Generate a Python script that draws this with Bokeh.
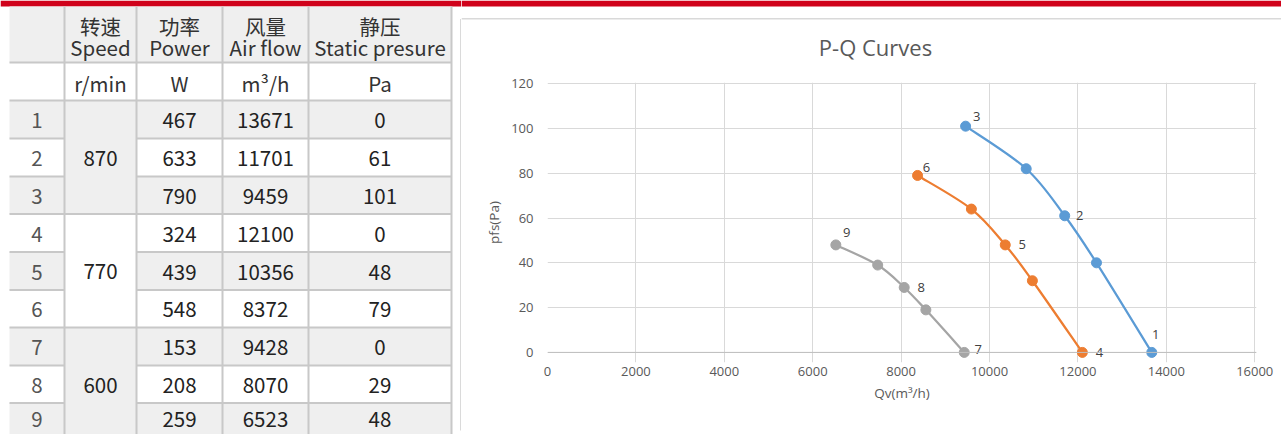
import numpy as np
from bokeh.plotting import figure
from bokeh.models import Range1d, ColumnDataSource, FixedTicker, NumeralTickFormatter, Span
from bokeh.layouts import column, row
from bokeh.embed import file_html
from bokeh.resources import INLINE
from bokeh.core.properties import value

# ---------------- table data ----------------
row_ids = ["1", "2", "3", "4", "5", "6", "7", "8", "9"]
speeds = ["870", "770", "600"]
power = ["467", "633", "790", "324", "439", "548", "153", "208", "259"]
airflow = ["13671", "11701", "9459", "12100", "10356", "8372", "9428", "8070", "6523"]
static = ["0", "61", "101", "0", "48", "79", "0", "29", "48"]
header_cn = ["转速", "功率", "风量", "静压"]
header_en = ["Speed", "Power", "Air flow", "Static presure"]
units = ["r/min", "W", "m³/h", "Pa"]

# ---------------- chart data ----------------
q_870 = [13671, 12420, 11701, 10830, 9459]
p_870 = [0, 40, 61, 82, 101]
q_770 = [12100, 10970, 10356, 9590, 8372]
p_770 = [0, 32, 48, 64, 79]
q_600 = [9428, 8560, 8070, 7470, 6523]
p_600 = [0, 19, 29, 39, 48]
lab_870 = ["1", "", "2", "", "3"]
lab_770 = ["4", "", "5", "", "6"]
lab_600 = ["7", "", "8", "", "9"]
x_ticks = [0, 2000, 4000, 6000, 8000, 10000, 12000, 14000, 16000]
y_ticks = [0, 20, 40, 60, 80, 100, 120]
chart_title = "P-Q Curves"
x_title = "Qv(m³/h)"
y_title = "pfs(Pa)"

# ---------------- styles ----------------
RED = "#d0021b"
CELL_GRAY = "#efefef"
LINE_GRAY = "#c8c8c8"
FRAME_GRAY = "#d9d9d9"
TXT = "#595959"
CJK = value("Noto Sans CJK SC")
LAT = "Open Sans"
BLUE, ORANGE, GREY = "#5b9bd5", "#ed7d31", "#a5a5a5"


def pixel_fig(w, h, x0, y0, bg="white"):
    f = figure(width=w, height=h, x_range=Range1d(x0, x0 + w), y_range=Range1d(y0 + h, y0),
               output_backend="svg", toolbar_location=None, min_border=0,
               x_axis_type=None, y_axis_type=None, frame_align=False)
    f.outline_line_color = None
    f.background_fill_color = bg
    f.border_fill_color = bg
    return f


# ---------------- table ----------------
tab = pixel_fig(461, 434, 0, 0)
tab.quad(left=[0], right=[461], top=[0], bottom=[6], fill_color=RED, line_color=None)
col_edges = [9, 64, 136, 222, 308, 451]
row_edges = [6, 62, 100, 138, 176, 213.5, 251.5, 289.5, 327, 365, 402.5, 440]

ql, qr, qt, qb = [], [], [], []
for r in range(len(row_edges) - 1):
    if r == 0:
        ql.append(col_edges[0]); qr.append(col_edges[-1]); qt.append(row_edges[0]); qb.append(row_edges[1])
    elif r >= 2 and r % 2 == 0:
        for a, b in [(col_edges[0], col_edges[1]), (col_edges[2], col_edges[-1])]:
            ql.append(a); qr.append(b); qt.append(row_edges[r]); qb.append(row_edges[r + 1])
for g in range(len(speeds)):
    if g % 2 == 0:
        ql.append(col_edges[1]); qr.append(col_edges[2])
        qt.append(row_edges[2 + 3 * g]); qb.append(row_edges[5 + 3 * g])
tab.quad(left=ql, right=qr, top=qt, bottom=qb, fill_color=CELL_GRAY, line_color=None)

hx0, hx1, hy = [], [], []
for r in range(1, len(row_edges) - 1):
    y = row_edges[r]
    inner = r >= 3 and (r - 2) % 3 != 0
    if inner:
        hx0 += [col_edges[0], col_edges[2]]; hx1 += [col_edges[1], col_edges[-1]]; hy += [y, y]
    else:
        hx0.append(col_edges[0]); hx1.append(col_edges[-1]); hy.append(y)
tab.segment(x0=hx0, y0=hy, x1=hx1, y1=hy, line_color=LINE_GRAY, line_width=2)
vx = col_edges[1:]
tab.segment(x0=vx, y0=[6] * len(vx), x1=vx, y1=[434] * len(vx), line_color=LINE_GRAY, line_width=2)
tab.segment(x0=[460.3], y0=[18.5], x1=[460.3], y1=[430], line_color=FRAME_GRAY, line_width=1.5)

ccx = [(col_edges[i] + col_edges[i + 1]) / 2 for i in range(len(col_edges) - 1)]
rmid = [(row_edges[i] + row_edges[i + 1]) / 2 + 1 for i in range(len(row_edges) - 1)]
rmid[-1] = min(rmid[-1], 419)  # keep the last (partly hidden) row's text inside the page

tkw = dict(text_font=CJK, text_font_size="20.5px", text_align="center", text_baseline="middle")
tab.text(x=ccx[1:], y=[25] * 4, text=header_cn, text_color="#333333", **tkw)
tab.text(x=ccx[1:], y=[46] * 4, text=header_en, text_color="#333333", **tkw)
tab.text(x=ccx[1:], y=[rmid[1]] * 4, text=units, text_color="#333333", **tkw)
tab.text(x=[ccx[0]] * 9, y=rmid[2:], text=row_ids, text_color="#555555", **tkw)
tab.text(x=[ccx[1]] * 3, y=[(row_edges[2 + 3 * g] + row_edges[5 + 3 * g]) / 2 + 1 for g in range(3)],
         text=speeds, text_color="#222222", **tkw)
tab.text(x=[ccx[2]] * 9, y=rmid[2:], text=power, text_color="#222222", **tkw)
tab.text(x=[ccx[3]] * 9, y=rmid[2:], text=airflow, text_color="#222222", **tkw)
tab.text(x=[ccx[4]] * 9, y=rmid[2:], text=static, text_color="#222222", **tkw)

# ---------------- chart strips ----------------
top = pixel_fig(820, 64, 461, 0)
top.quad(left=[461], right=[1281], top=[0], bottom=[6], fill_color=RED, line_color=None)
top.segment(x0=[461], y0=[18.2], x1=[1281], y1=[18.2], line_color=FRAME_GRAY, line_width=1.5)
top.text(x=[875], y=[46], text=[chart_title], text_font=value(LAT), text_font_size="22px",
         text_color=TXT, text_align="center", text_baseline="middle")
bot = pixel_fig(820, 5, 461, 429)
bot.segment(x0=[461], y0=[430.2], x1=[1281], y1=[430.2], line_color=FRAME_GRAY, line_width=1.5)

# ---------------- chart ----------------
c = figure(width=820, height=365, x_range=Range1d(0, 16040), y_range=Range1d(-4.5, 120.5),
           output_backend="svg", toolbar_location=None, frame_align=False,
           min_border_left=86, min_border_right=25, min_border_top=18, min_border_bottom=67)
c.background_fill_color = "white"
c.border_fill_color = "white"
c.outline_line_color = None

for ax, ticks in [(c.xaxis[0], x_ticks), (c.yaxis[0], y_ticks)]:
    ax.ticker = FixedTicker(ticks=ticks)
    ax.formatter = NumeralTickFormatter(format="0")
    ax.major_tick_line_color = None
    ax.minor_tick_line_color = None
    ax.major_tick_out = 0
    ax.major_tick_in = 0
    ax.axis_line_color = None
    ax.major_label_text_font = LAT
    ax.major_label_text_font_size = "13px"
    ax.major_label_text_color = TXT
    ax.axis_label_text_font = LAT
    ax.axis_label_text_font_size = "13.5px"
    ax.axis_label_text_font_style = "normal"
    ax.axis_label_text_color = TXT
c.xaxis.axis_label = x_title
c.yaxis.axis_label = y_title
c.xaxis.major_label_standoff = 4
c.yaxis.major_label_standoff = 14
c.xaxis.axis_label_standoff = 5
c.yaxis.axis_label_standoff = 5
c.xgrid.ticker = FixedTicker(ticks=x_ticks)
c.ygrid.ticker = FixedTicker(ticks=y_ticks)
c.xgrid.bounds = (0, 120)
c.ygrid.bounds = (0, 16000)
c.grid.grid_line_color = FRAME_GRAY
c.grid.grid_line_width = 1
c.add_layout(Span(location=0, dimension="width", line_color="#bfbfbf", line_width=1))


def smooth(xs, ys):
    P = np.column_stack([xs, ys]).astype(float)
    n = len(P)
    segs = []
    for i in range(n - 1):
        p0 = P[i - 1] if i > 0 else P[i]
        p1, p2 = P[i], P[i + 1]
        p3 = P[i + 2] if i + 2 < n else P[i + 1]
        c1 = p1 + (p2 - p0) / 6.0
        c2 = p2 - (p3 - p1) / 6.0
        segs.append((p1, p2, c1, c2))
    return dict(x0=[s[0][0] for s in segs], y0=[s[0][1] for s in segs],
                x1=[s[1][0] for s in segs], y1=[s[1][1] for s in segs],
                cx0=[s[2][0] for s in segs], cy0=[s[2][1] for s in segs],
                cx1=[s[3][0] for s in segs], cy1=[s[3][1] for s in segs])


label_offsets = {
    "1": (4, -18), "2": (15, 0), "3": (11, -10),
    "4": (17, 0), "5": (17, 0), "6": (9, -8),
    "7": (14, -3), "8": (17, 0), "9": (11, -12),
}

for qs, ps, labs, col in [(q_870, p_870, lab_870, BLUE), (q_770, p_770, lab_770, ORANGE),
                          (q_600, p_600, lab_600, GREY)]:
    c.bezier(source=ColumnDataSource(smooth(qs, ps)), x0="x0", y0="y0", x1="x1", y1="y1",
             cx0="cx0", cy0="cy0", cx1="cx1", cy1="cy1", line_color=col, line_width=2.25)
    c.scatter(qs, ps, size=10, color=col)
    idx = [i for i, t in enumerate(labs) if t]
    src = ColumnDataSource(dict(x=[qs[i] for i in idx], y=[ps[i] for i in idx],
                                t=[labs[i] for i in idx],
                                dx=[label_offsets[labs[i]][0] for i in idx],
                                dy=[label_offsets[labs[i]][1] for i in idx]))
    c.text(x="x", y="y", text="t", x_offset="dx", y_offset="dy", source=src,
           text_font=value(LAT), text_font_size="13px", text_color="#404040",
           text_align="center", text_baseline="middle")

right = column(top, c, bot)
lay = row(tab, right)
lay.styles = {"position": "absolute", "left": "0px", "top": "0px"}

open("out.html", "w").write(file_html(lay, INLINE))
